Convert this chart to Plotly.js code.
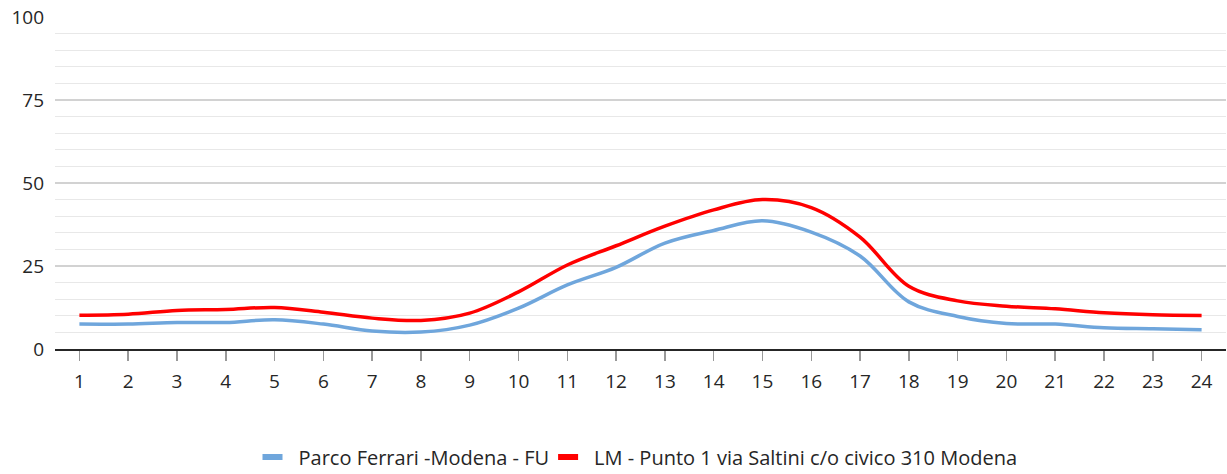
<!DOCTYPE html>
<html>
<head>
<meta charset="utf-8">
<script src="https://cdn.plot.ly/plotly-3.0.1.min.js"></script>
<style>
html,body{margin:0;padding:0;background:#fff;}
#chart{width:1227px;height:474px;}
</style>
</head>
<body>
<div id="chart"></div>
<script>
const hours = ["1","2","3","4","5","6","7","8","9","10","11","12","13","14","15","16","17","18","19","20","21","22","23","24"];
const parcoFerrari = [7.5,7.5,8.0,8.0,8.8,7.5,5.4,5.1,7.2,12.3,19.3,24.6,31.9,35.7,38.6,35.2,28.0,14.2,9.8,7.7,7.5,6.4,6.1,5.8];
const lmSaltini = [10.2,10.5,11.6,11.9,12.5,11.1,9.3,8.6,10.8,17.2,25.3,31.1,37.0,41.9,45.0,42.6,33.7,18.9,14.5,12.9,12.1,10.9,10.3,10.1];
const seriesNames = ["Parco Ferrari -Modena - FU", "LM - Punto 1 via Saltini c/o civico 310 Modena"];
const yTicks = [0,25,50,75,100];

const traces = [
  {x: hours, y: parcoFerrari, name: seriesNames[0], type: "scatter", mode: "lines",
   line: {color: "#6fa6dc", width: 3.5, shape: "spline", smoothing: 1}},
  {x: hours, y: lmSaltini, name: seriesNames[1], type: "scatter", mode: "lines",
   line: {color: "#ff0000", width: 3.5, shape: "spline", smoothing: 1}}
];

const layout = {
  width: 1227, height: 474,
  margin: {l: 55, r: 1, t: 17, b: 125, autoexpand: false},
  paper_bgcolor: "#fff", plot_bgcolor: "#fff",
  font: {family: "Open Sans, Noto Sans, sans-serif", size: 20, color: "#262626"},
  showlegend: true,
  legend: {orientation: "h", x: 0.5, xanchor: "center", y: -0.325, yanchor: "middle",
           font: {size: 20, color: "#262626"}, itemwidth: 30, traceorder: "normal"},
  xaxis: {type: "category", range: [-0.5, 23.5], showgrid: false, zeroline: false,
          showline: true, linecolor: "#262626", linewidth: 2,
          ticks: "outside", ticklen: 10, tickcolor: "#999", tickwidth: 1.5,
          ticklabelstandoff: 4,
          tickfont: {size: 19, color: "#262626"}, fixedrange: true},
  yaxis: {range: [0, 100], tickvals: yTicks, ticktext: yTicks.map(String),
          showgrid: true, gridcolor: "#d2d2d2", gridwidth: 1.5, zeroline: false,
          showline: false, ticks: "", ticklabelstandoff: 10,
          tickfont: {size: 19, color: "#262626"},
          minor: {dtick: 5, tick0: 0, showgrid: true, gridcolor: "#e8e8e8", gridwidth: 1.2},
          fixedrange: true}
};

Plotly.newPlot("chart", traces, layout, {displayModeBar: false, staticPlot: true}).then(function(gd){
  // shorten legend symbols to short thick bars like the reference
  gd.querySelectorAll(".legend .legendlines path").forEach(function(p){
    p.setAttribute("d", "M4,0h20");
    p.style.strokeWidth = "6px";
  });
});
</script>
</body>
</html>
